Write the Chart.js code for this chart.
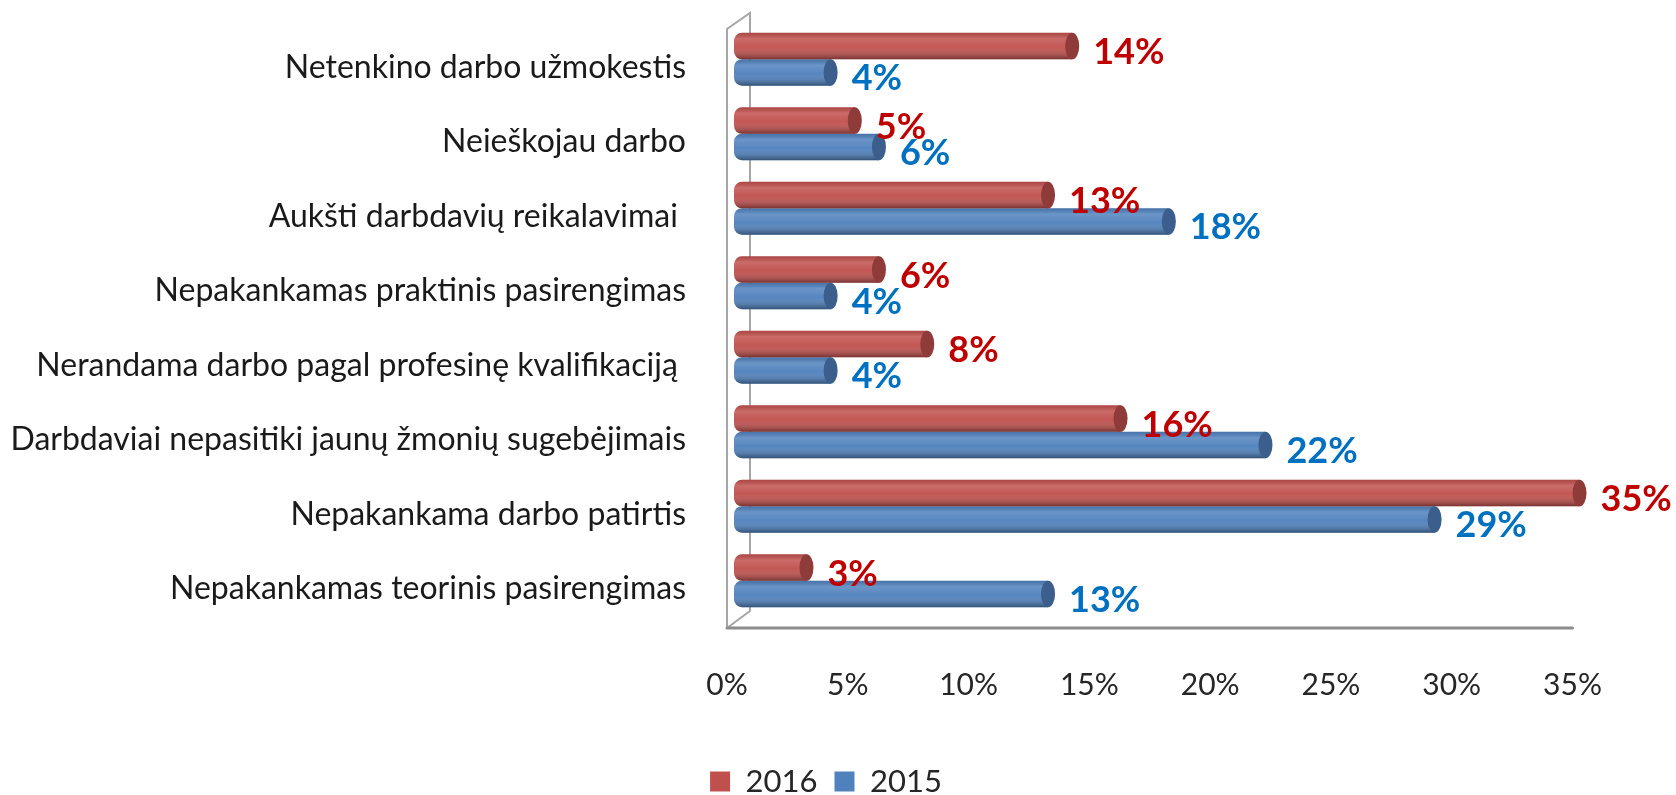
<!DOCTYPE html>
<html>
<head>
<meta charset="utf-8">
<script src="https://cdn.jsdelivr.net/npm/chart.js@4.4.1/dist/chart.umd.min.js"></script>
<style>
  html, body { margin: 0; padding: 0; background: #fff; overflow: hidden; }
  #wrap { width: 1676px; height: 815px; position: relative; }
</style>
</head>
<body>
<div id="wrap"><canvas id="chart"></canvas></div>
<script>
// Kategorijos (iš viršaus į apačią)
var categories = [
  'Netenkino darbo užmokestis',
  'Neieškojau darbo',
  'Aukšti darbdavių reikalavimai ',
  'Nepakankamas praktinis pasirengimas',
  'Nerandama darbo pagal profesinę kvalifikaciją ',
  'Darbdaviai nepasitiki jaunų žmonių sugebėjimais',
  'Nepakankama darbo patirtis',
  'Nepakankamas teorinis pasirengimas'
];
var values2016 = [14, 5, 13, 6, 8, 16, 35, 3];
var values2015 = [4, 6, 18, 4, 4, 22, 29, 13];
var xTicks = [0, 5, 10, 15, 20, 25, 30, 35];

var barColors = ['#C0504D', '#4F81BD'];
var capColors = ['#8E3B39', '#3B5E8C'];
var labelColors = ['#C00000', '#0070C0'];

Chart.defaults.font.family = 'Lato';

// 3D rėmelis (kairė siena ir grindys)
var frame3d = {
  id: 'frame3d',
  beforeDatasetsDraw: function(chart) {
    var ctx = chart.ctx, a = chart.chartArea, xs = chart.scales.x;
    var fx0 = a.left - 7, fx1 = xs.getPixelForValue(35) - 7;
    var fyTop = a.top + 7, fyBot = a.bottom + 10;
    var bx = fx0 + 23, byTop = fyTop - 16, byBot = fyBot - 17;
    ctx.save();
    ctx.lineCap = 'round';
    ctx.strokeStyle = '#a6a6a6';
    ctx.lineWidth = 2;
    ctx.beginPath();
    ctx.moveTo(bx, byBot); ctx.lineTo(bx, byTop);
    ctx.lineTo(fx0, fyTop); ctx.lineTo(fx0, fyBot);
    ctx.moveTo(fx0, fyBot); ctx.lineTo(bx, byBot);
    ctx.stroke();
    ctx.strokeStyle = '#8c8c8c';
    ctx.lineWidth = 3;
    ctx.beginPath();
    ctx.moveTo(fx0, fyBot); ctx.lineTo(fx1, fyBot);
    ctx.stroke();
    ctx.restore();
  }
};

// Cilindro šešėliai, galai ir reikšmių etiketės
var cylinders = {
  id: 'cylinders',
  afterDatasetsDraw: function(chart) {
    var ctx = chart.ctx;
    ctx.save();
    chart.data.datasets.forEach(function(ds, di) {
      chart.getDatasetMeta(di).data.forEach(function(bar) {
        var h = bar.height, top = bar.y - h / 2, w = bar.x - bar.base;
        var g = ctx.createLinearGradient(0, top, 0, top + h);
        g.addColorStop(0, 'rgba(0,0,0,0.10)');
        g.addColorStop(0.22, 'rgba(255,255,255,0.16)');
        g.addColorStop(0.55, 'rgba(255,255,255,0.04)');
        g.addColorStop(1, 'rgba(0,0,0,0.38)');
        ctx.fillStyle = g;
        ctx.beginPath();
        ctx.roundRect(bar.base, top, w, h, [8, 0, 0, 8]);
        ctx.fill();
        ctx.fillStyle = capColors[di];
        ctx.beginPath();
        ctx.ellipse(bar.x, bar.y, 7, h / 2, 0, 0, Math.PI * 2);
        ctx.fill();
      });
    });
    ctx.font = 'bold 36px Lato';
    ctx.textAlign = 'left';
    ctx.textBaseline = 'alphabetic';
    chart.data.datasets.forEach(function(ds, di) {
      ctx.fillStyle = labelColors[di];
      chart.getDatasetMeta(di).data.forEach(function(bar, i) {
        ctx.fillText(ds.data[i] + '%', bar.x + 21, bar.y + 18);
      });
    });
    ctx.restore();
  }
};

var chart = new Chart(document.getElementById('chart'), {
  type: 'bar',
  data: {
    labels: categories,
    datasets: [{
      label: '2016',
      data: values2016,
      backgroundColor: barColors[0]
    }, {
      label: '2015',
      data: values2015,
      backgroundColor: barColors[1]
    }]
  },
  options: {
    indexAxis: 'y',
    responsive: true,
    maintainAspectRatio: false,
    animation: false,
    categoryPercentage: 0.71,
    barPercentage: 1,
    borderWidth: 0,
    borderSkipped: false,
    borderRadius: { topLeft: 8, bottomLeft: 8, topRight: 0, bottomRight: 0 },
    layout: { padding: { top: 22, left: 0, right: 24, bottom: 8 } },
    scales: {
      x: {
        min: 0,
        max: 38,
        afterBuildTicks: function(scale) {
          scale.ticks = xTicks.map(function(v) { return { value: v }; });
        },
        afterFit: function(scale) {
          scale.height = 131;
          scale.paddingLeft = 0;
          scale.paddingRight = 0;
        },
        grid: { display: false },
        border: { display: false },
        ticks: {
          padding: 41,
          labelOffset: -7,
          color: '#262626',
          font: { size: 30 },
          callback: function(v) { return v + '%'; }
        }
      },
      y: {
        afterFit: function(scale) {
          scale.width = 734;
          scale.paddingTop = 0;
          scale.paddingBottom = 0;
        },
        grid: { display: false },
        border: { display: false },
        ticks: {
          padding: 40,
          labelOffset: 8,
          color: '#1a1a1a',
          font: { size: 32 }
        }
      }
    },
    plugins: {
      legend: {
        position: 'bottom',
        labels: {
          boxWidth: 20,
          boxHeight: 20,
          padding: 17,
          color: '#262626',
          font: { size: 31 }
        }
      },
      tooltip: { enabled: false }
    }
  },
  plugins: [frame3d, cylinders]
});
</script>
</body>
</html>
